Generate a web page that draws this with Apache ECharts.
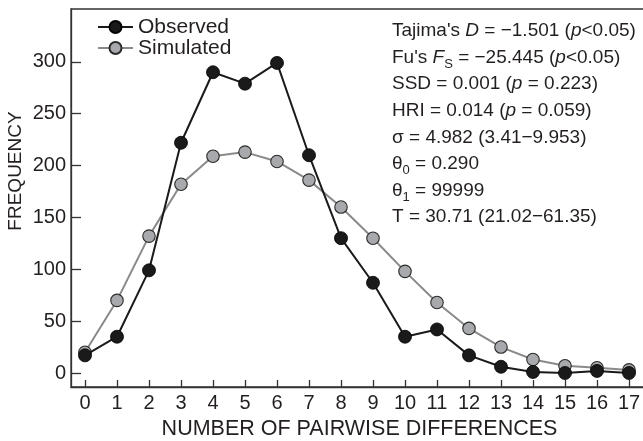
<!DOCTYPE html>
<html>
<head>
<meta charset="utf-8">
<script src="https://cdn.jsdelivr.net/npm/echarts@6/dist/echarts.min.js"></script>
<style>
  html, body { margin: 0; padding: 0; background: #fff; }
  #chart { width: 643px; height: 441px; }
</style>
</head>
<body>
<div id="chart"></div>
<script>
// ---- data ----
var categories = [0, 1, 2, 3, 4, 5, 6, 7, 8, 9, 10, 11, 12, 13, 14, 15, 16, 17];
var observed  = [17, 35, 99, 222, 290, 279, 299, 210, 130, 87, 35, 42, 17, 6, 1, 0, 2, 0];
var simulated = [20, 70, 132, 182, 209, 213, 204, 186, 160, 130, 98, 68, 43, 25, 13, 7, 5, 3];
var yTicks = [0, 50, 100, 150, 200, 250, 300];
var seriesNames = ['Observed', 'Simulated'];
var xTitle = 'NUMBER OF PAIRWISE DIFFERENCES';
var yTitle = 'FREQUENCY';
var statLines = [
  "Tajima's {i|D} = \u22121.501 ({i|p}<0.05)",
  "Fu's {i|F}{sub|S} = \u221225.445 ({i|p}<0.05)",
  "SSD = 0.001 ({i|p} = 0.223)",
  "HRI = 0.014 ({i|p} = 0.059)",
  "\u03c3 = 4.982 (3.41\u22129.953)",
  "\u03b8{sub|0} = 0.290",
  "\u03b8{sub|1} = 99999",
  "T = 30.71 (21.02\u221261.35)"
];

var FONT = 'Liberation Sans';
var INK = '#231f20';

function pairs(vals) {
  return vals.map(function (v, i) { return [categories[i], v]; });
}

var chart = echarts.init(document.getElementById('chart'), null, { renderer: 'canvas' });

chart.setOption({
  animation: false,
  backgroundColor: '#ffffff',
  textStyle: { fontFamily: FONT, color: INK },
  grid: {
    left: 71, top: 9, right: -2, bottom: 54,
    containLabel: false,
    outerBoundsMode: 'none',
    show: true, borderColor: '#333333', borderWidth: 1.3, backgroundColor: 'transparent'
  },
  legend: {
    orient: 'vertical',
    left: 97, top: 16.5,
    padding: 0,
    itemWidth: 35, itemHeight: 15, itemGap: 0,
    data: seriesNames,
    textStyle: { fontFamily: FONT, fontSize: 21, color: INK, lineHeight: 20.7 }
  },
  xAxis: {
    type: 'value',
    min: -0.4375, max: 17.5,
    name: xTitle,
    nameLocation: 'middle',
    nameGap: 27,
    nameTextStyle: { fontFamily: FONT, fontSize: 21.5, color: INK, padding: [0, 0, 0, 3] },
    splitLine: { show: false },
    axisLine: { show: true, onZero: false, lineStyle: { color: '#333333', width: 1.3 } },
    axisTick: { show: true, inside: true, length: 7, customValues: categories,
                lineStyle: { color: '#333333', width: 1.3 } },
    axisLabel: { show: true, customValues: categories, margin: 6,
                 fontFamily: FONT, fontSize: 20, color: INK }
  },
  yAxis: {
    type: 'value',
    min: -13.5, max: 351,
    splitLine: { show: false },
    axisLine: { show: true, onZero: false, lineStyle: { color: '#333333', width: 1.3 } },
    axisTick: { show: true, inside: true, length: 10, customValues: yTicks,
                lineStyle: { color: '#333333', width: 1.3 } },
    axisLabel: { show: true, customValues: yTicks, margin: 5,
                 fontFamily: FONT, fontSize: 20, color: INK }
  },
  series: [
    {
      name: 'Simulated',
      type: 'line',
      data: pairs(simulated),
      symbol: 'circle',
      symbolSize: 12.5,
      z: 2,
      lineStyle: { color: '#8a8a8a', width: 2 },
      itemStyle: { color: '#a7a9ac', borderColor: '#2a2a2a', borderWidth: 1.1 }
    },
    {
      name: 'Observed',
      type: 'line',
      data: pairs(observed),
      symbol: 'circle',
      symbolSize: 13,
      z: 3,
      lineStyle: { color: '#1a1a1a', width: 2 },
      itemStyle: { color: '#1a1a1a', borderColor: '#000000', borderWidth: 0.8 }
    }
  ],
  graphic: [
    {
      type: 'text',
      left: 392,
      top: 17.7,
      z: 10,
      style: {
        text: statLines.join('\n'),
        fontFamily: FONT,
        fontSize: 19,
        lineHeight: 26.6,
        fill: INK,
        rich: {
          i: { fontFamily: FONT, fontSize: 19, fontStyle: 'italic', lineHeight: 26.6, fill: INK },
          sub: { fontFamily: FONT, fontSize: 13, lineHeight: 16, verticalAlign: 'bottom', fill: INK }
        }
      }
    },
    {
      type: 'text',
      x: 16, y: 171,
      rotation: Math.PI / 2,
      z: 10,
      style: {
        text: yTitle,
        x: 0, y: 0,
        align: 'center',
        verticalAlign: 'middle',
        fontFamily: FONT,
        fontSize: 19,
        fill: INK
      }
    }
  ]
});
</script>
</body>
</html>
